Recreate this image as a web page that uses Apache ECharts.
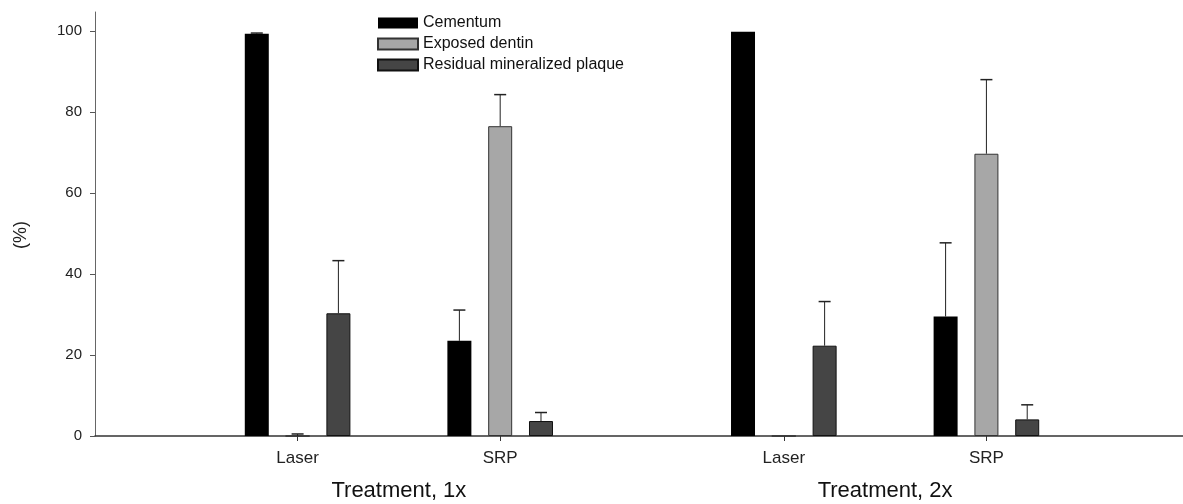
<!DOCTYPE html>
<html>
<head>
<meta charset="utf-8">
<script src="https://cdn.jsdelivr.net/npm/echarts@6/dist/echarts.min.js"></script>
<style>
html,body{margin:0;padding:0;background:#fff;}
#chart{width:1183px;height:504px;}
</style>
</head>
<body>
<div id="chart"></div>
<script>
// ---- data ----
const categories = ['Laser', 'SRP', 'Laser', 'SRP'];
const groupLabels = ['Treatment, 1x', 'Treatment, 2x'];
const seriesNames = ['Cementum', 'Exposed dentin', 'Residual mineralized plaque'];
const cementum = [99.3, 23.5, 99.8, 29.5];
const cementumErr = [0.2, 7.6, 0, 18.2];
const dentin = [0, 76.5, 0, 69.7];
const dentinErr = [0.5, 7.8, 0, 18.3];
const plaque = [30.3, 3.7, 22.3, 4.1];
const plaqueErr = [13.0, 2.1, 10.9, 3.6];
const yTicks = [0, 20, 40, 60, 80, 100];

// ---- layout of slots on the category axis (spacers between groups) ----
const lead = 10, within = 10, between = 14, totalSlots = 55;
const slotOf = [lead, lead + within, lead + within + between, lead + 2 * within + between];
const groupSlot = [(slotOf[0] + slotOf[1]) / 2, (slotOf[2] + slotOf[3]) / 2];

const axisData = new Array(totalSlots).fill('');
categories.forEach((c, i) => { axisData[slotOf[i]] = c; });
const groupAxisData = new Array(totalSlots).fill('');
groupLabels.forEach((g, i) => { groupAxisData[groupSlot[i]] = g; });

function toSlots(vals) {
  const arr = new Array(totalSlots).fill('-');
  vals.forEach((v, i) => { arr[slotOf[i]] = v; });
  return arr;
}
const values = [cementum, dentin, plaque];
const errs = [cementumErr, dentinErr, plaqueErr];
const errData = [];
values.forEach((vals, s) => {
  vals.forEach((v, i) => {
    if (errs[s][i] > 0) errData.push([slotOf[i], s, v, errs[s][i]]);
  });
});

const BAR_W = 24, GAP = 0.7;
const step = BAR_W * (1 + GAP);
const colors = ['#000000', '#a7a7a7', '#454545'];
const borders = ['#000000', '#333333', '#111111'];
const font = 'Liberation Sans, Arial, sans-serif';

const chart = echarts.init(document.getElementById('chart'), null, {renderer: 'canvas'});
const option = {
  animation: false,
  backgroundColor: '#ffffff',
  grid: {left: 95, right: -6, top: 12, bottom: 68, outerBoundsMode: 'none', containLabel: false},
  legend: {
    orient: 'vertical',
    left: 372, top: 10,
    itemWidth: 40, itemHeight: 11, itemGap: 5,
    textStyle: {fontFamily: font, fontSize: 16, color: '#111', lineHeight: 16},
    data: seriesNames,
    icon: 'rect'
  },
  xAxis: [{
    type: 'category',
    data: axisData,
    boundaryGap: false,
    axisLine: {lineStyle: {color: '#333', width: 1.5}},
    axisTick: {show: true, length: 5, lineStyle: {color: '#333'},
      interval: function (i, v) { return v !== ''; }},
    axisLabel: {interval: 0, fontFamily: font, fontSize: 17, color: '#222', margin: 14},
    splitLine: {show: false}
  }, {
    type: 'category',
    data: groupAxisData,
    boundaryGap: false,
    position: 'bottom',
    axisLine: {show: false},
    axisTick: {show: false},
    axisLabel: {interval: 0, fontFamily: font, fontSize: 22, color: '#111', margin: 44},
    splitLine: {show: false}
  }],
  yAxis: {
    type: 'value',
    min: 0,
    max: 104.7,
    interval: 20,
    name: '(%)',
    nameLocation: 'middle',
    nameRotate: 90,
    nameGap: 65,
    nameTextStyle: {fontFamily: font, fontSize: 18, color: '#222', padding: [0, 0, 0, -22]},
    axisLine: {show: true, lineStyle: {color: '#666', width: 1}},
    axisTick: {show: true, length: 5, lineStyle: {color: '#555'}},
    axisLabel: {fontFamily: font, fontSize: 15, color: '#222', margin: 13, showMaxLabel: false,
      formatter: v => (yTicks.indexOf(v) >= 0 ? String(v) : '')},
    splitLine: {show: false}
  },
  series: seriesNames.map((name, s) => ({
    name: name,
    type: 'bar',
    xAxisIndex: 0,
    data: toSlots(values[s]),
    barWidth: BAR_W,
    barGap: (GAP * 100) + '%',
    itemStyle: {color: colors[s], borderColor: borders[s], borderWidth: s === 0 ? 0 : 1}
  })).concat([{
    type: 'custom',
    xAxisIndex: 0,
    z: 5,
    data: errData,
    encode: {x: 0, y: 2},
    renderItem: function (params, api) {
      const slot = api.value(0), s = api.value(1), v = api.value(2), e = api.value(3);
      const base = api.coord([slot, v]);
      const top = api.coord([slot, v + e]);
      const x = base[0] + (s - 1) * step;
      const cap = 6;
      return {
        type: 'group',
        children: [
          {type: 'line', shape: {x1: x, y1: base[1], x2: x, y2: top[1]}, style: {stroke: '#222', lineWidth: 1}},
          {type: 'line', shape: {x1: x - cap, y1: top[1], x2: x + cap, y2: top[1]}, style: {stroke: '#222', lineWidth: 1.5}}
        ]
      };
    }
  }])
};
chart.setOption(option);
</script>
</body>
</html>
